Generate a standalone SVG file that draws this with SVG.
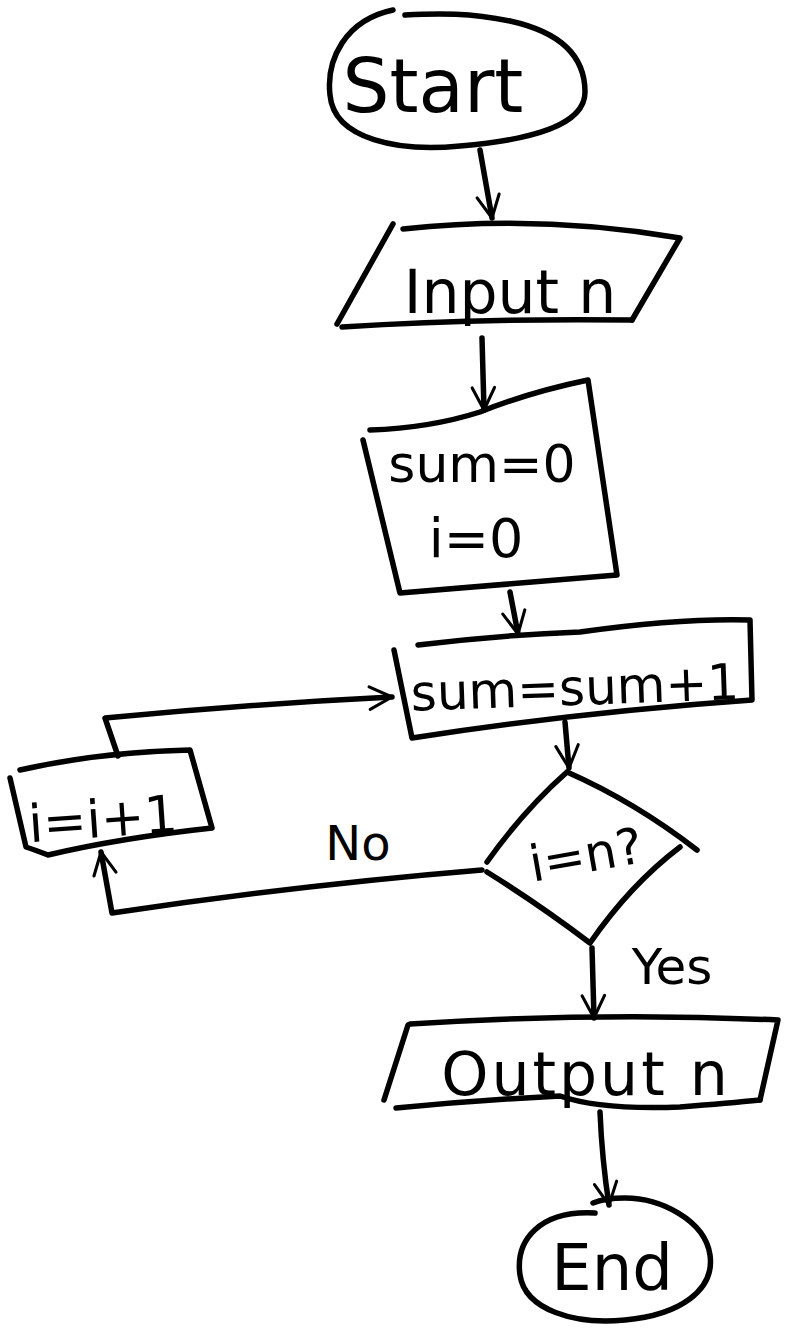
<svg xmlns="http://www.w3.org/2000/svg" width="788" height="1333" viewBox="0 0 788 1333">
  <style>
    .ink { fill: none; stroke: #000; stroke-width: 5.5; stroke-linecap: round; stroke-linejoin: round; }
    .lbl { font-family: "DejaVu Sans", "Liberation Sans", sans-serif; fill: #000; }
  </style>
  <defs>
    <marker id="head" viewBox="0 0 20 20" refX="18" refY="10" markerWidth="28" markerHeight="28" markerUnits="userSpaceOnUse" orient="auto">
      <path d="M 2 2 L 18 10 L 2 18" fill="none" stroke="#000" stroke-width="2.2" stroke-linecap="round" stroke-linejoin="round"/>
    </marker>
  </defs>
  <rect width="788" height="1333" fill="#fff"/>

  <!-- Start terminal -->
  <g id="start">
    <path class="ink" d="M 393 10 C 345 20, 326 60, 330 95 C 334 140, 400 152, 460 146 C 530 140, 585 126, 585 92 C 585 56, 560 32, 510 21 C 470 13, 440 13, 405 15"/>
    <text class="lbl" x="433" y="112" font-size="74" text-anchor="middle">Start</text>
  </g>

  <!-- Input n -->
  <g id="input">
    <path class="ink" d="M 393 224 L 337 324"/>
    <path class="ink" d="M 403 229 Q 540 214, 680 238 L 632 320"/>
    <path class="ink" d="M 342 327 Q 480 318, 632 320"/>
    <text class="lbl" x="510" y="313" font-size="60" text-anchor="middle">Input n</text>
  </g>

  <!-- sum=0 / i=0 -->
  <g id="init">
    <path class="ink" d="M 370 430 Q 430 428, 480 412 Q 530 392, 588 380 L 617 575 L 400 593 L 363 440"/>
    <text class="lbl" x="482" y="482" font-size="52" text-anchor="middle">sum=0</text>
    <text class="lbl" x="476" y="557" font-size="54" text-anchor="middle">i=0</text>
  </g>

  <!-- sum=sum+1 -->
  <g id="accumulate">
    <path class="ink" d="M 418 645 Q 500 635, 580 632 Q 680 618, 750 620 L 752 700 Q 580 712, 412 738 L 394 650"/>
    <text class="lbl" x="575" y="705" font-size="50" text-anchor="middle" transform="rotate(-2 575 690)">sum=sum+1</text>
  </g>

  <!-- i=n? -->
  <g id="decision">
    <path class="ink" d="M 567 772 Q 524 810, 487 862 M 567 772 Q 635 802, 697 850 M 680 847 Q 630 885, 590 943 Q 540 905, 487 872"/>
    <text class="lbl" x="586" y="872" font-size="50" text-anchor="middle" transform="rotate(-10 586 855)">i=n?</text>
  </g>

  <!-- i=i+1 -->
  <g id="increment">
    <path class="ink" d="M 20 770 Q 100 752, 190 750 L 212 828 Q 120 838, 48 855 Q 35 850, 26 847 L 10 778"/>
    <text class="lbl" x="103" y="837" font-size="52" text-anchor="middle" transform="rotate(-4 103 820)">i=i+1</text>
  </g>

  <!-- Output n -->
  <g id="output">
    <path class="ink" d="M 408 1025 L 384 1100"/>
    <path class="ink" d="M 410 1024 Q 600 1012, 778 1020 L 760 1100"/>
    <path class="ink" d="M 396 1108 Q 480 1100, 560 1096 Q 600 1110, 680 1107 Q 730 1103, 760 1100"/>
    <text class="lbl" x="586" y="1095" font-size="60" letter-spacing="3" text-anchor="middle">Output n</text>
  </g>

  <!-- End terminal -->
  <g id="end">
    <path class="ink" d="M 595 1213 C 540 1210, 515 1240, 520 1275 C 525 1310, 575 1325, 625 1320 C 680 1315, 715 1290, 710 1255 C 705 1220, 660 1198, 625 1198 C 610 1198, 600 1200, 593 1203"/>
    <text class="lbl" x="612" y="1290" font-size="64" text-anchor="middle">End</text>
  </g>

  <!-- Edge labels -->
  <g id="edge-labels">
    <text class="lbl" x="358" y="860" font-size="48" text-anchor="middle">No</text>
    <text class="lbl" x="672" y="984" font-size="50" text-anchor="middle">Yes</text>
  </g>

  <!-- Connectors -->
  <g id="connectors">
    <path class="ink" d="M 480 150 L 492 218" marker-end="url(#head)"/>
    <path class="ink" d="M 482 338 L 484 410" marker-end="url(#head)"/>
    <path class="ink" d="M 510 592 L 518 634" marker-end="url(#head)"/>
    <path class="ink" d="M 565 722 L 569 768" marker-end="url(#head)"/>
    <path class="ink" d="M 118 756 L 105 718 Q 250 704, 392 697" marker-end="url(#head)"/>
    <path class="ink" d="M 482 870 Q 300 885, 112 913 L 101 852" marker-end="url(#head)"/>
    <path class="ink" d="M 592 948 L 594 1018" marker-end="url(#head)"/>
    <path class="ink" d="M 600 1112 Q 602 1160, 609 1205" marker-end="url(#head)"/>
  </g>
</svg>
